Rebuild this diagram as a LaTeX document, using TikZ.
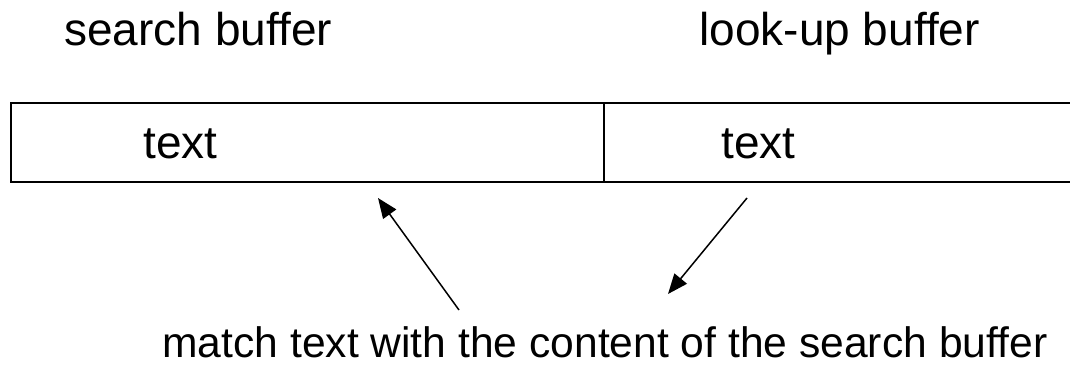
\documentclass[tikz,border=0pt]{standalone}
\usepackage{fontspec}
\setmainfont{Liberation Sans}
\usetikzlibrary{arrows.meta}
\begin{document}
\begin{tikzpicture}[x=0.5pt,y=-0.5pt,
  label/.style={anchor=base west,inner sep=0pt,font=\fontsize{23}{27}\selectfont},
  caption/.style={anchor=base west,inner sep=0pt,font=\fontsize{21.3}{26}\selectfont},
  buffer/.style={line width=1.2pt},
  pointer/.style={line width=0.75pt,-{Triangle[length=10pt,width=8pt]}}]
  \useasboundingbox (0,0) rectangle (1070,364);
  % buffer headings
  \node[label] (sbTitle) at (64,45) {search buffer};
  \node[label] (lbTitle) at (699,45) {look-up buffer};
  % the sliding window, open at its right end
  \coordinate (winNE) at (1072,103);
  \coordinate (winNW) at (11,103);
  \coordinate (winSW) at (11,182);
  \coordinate (winSE) at (1072,182);
  \coordinate (divTop) at (604,103);
  \coordinate (divBot) at (604,182);
  \draw[buffer] (winNE) -- (winNW) -- (winSW) -- (winSE);
  \draw[buffer] (divTop) -- (divBot);
  % contents of both buffers
  \node[label] (sbText) at (143,158) {text};
  \node[label] (lbText) at (721,158) {text};
  % pointers between the buffers and the caption
  \coordinate (matchFrom) at (459,310);
  \coordinate (matchTo) at (378,198);
  \coordinate (lookFrom) at (747,198);
  \coordinate (lookTo) at (668,294);
  \draw[pointer] (matchFrom) -- (matchTo);
  \draw[pointer] (lookFrom) -- (lookTo);
  \node[caption] (caption) at (162,357) {match text with the content of the search buffer};
\end{tikzpicture}
\end{document}
